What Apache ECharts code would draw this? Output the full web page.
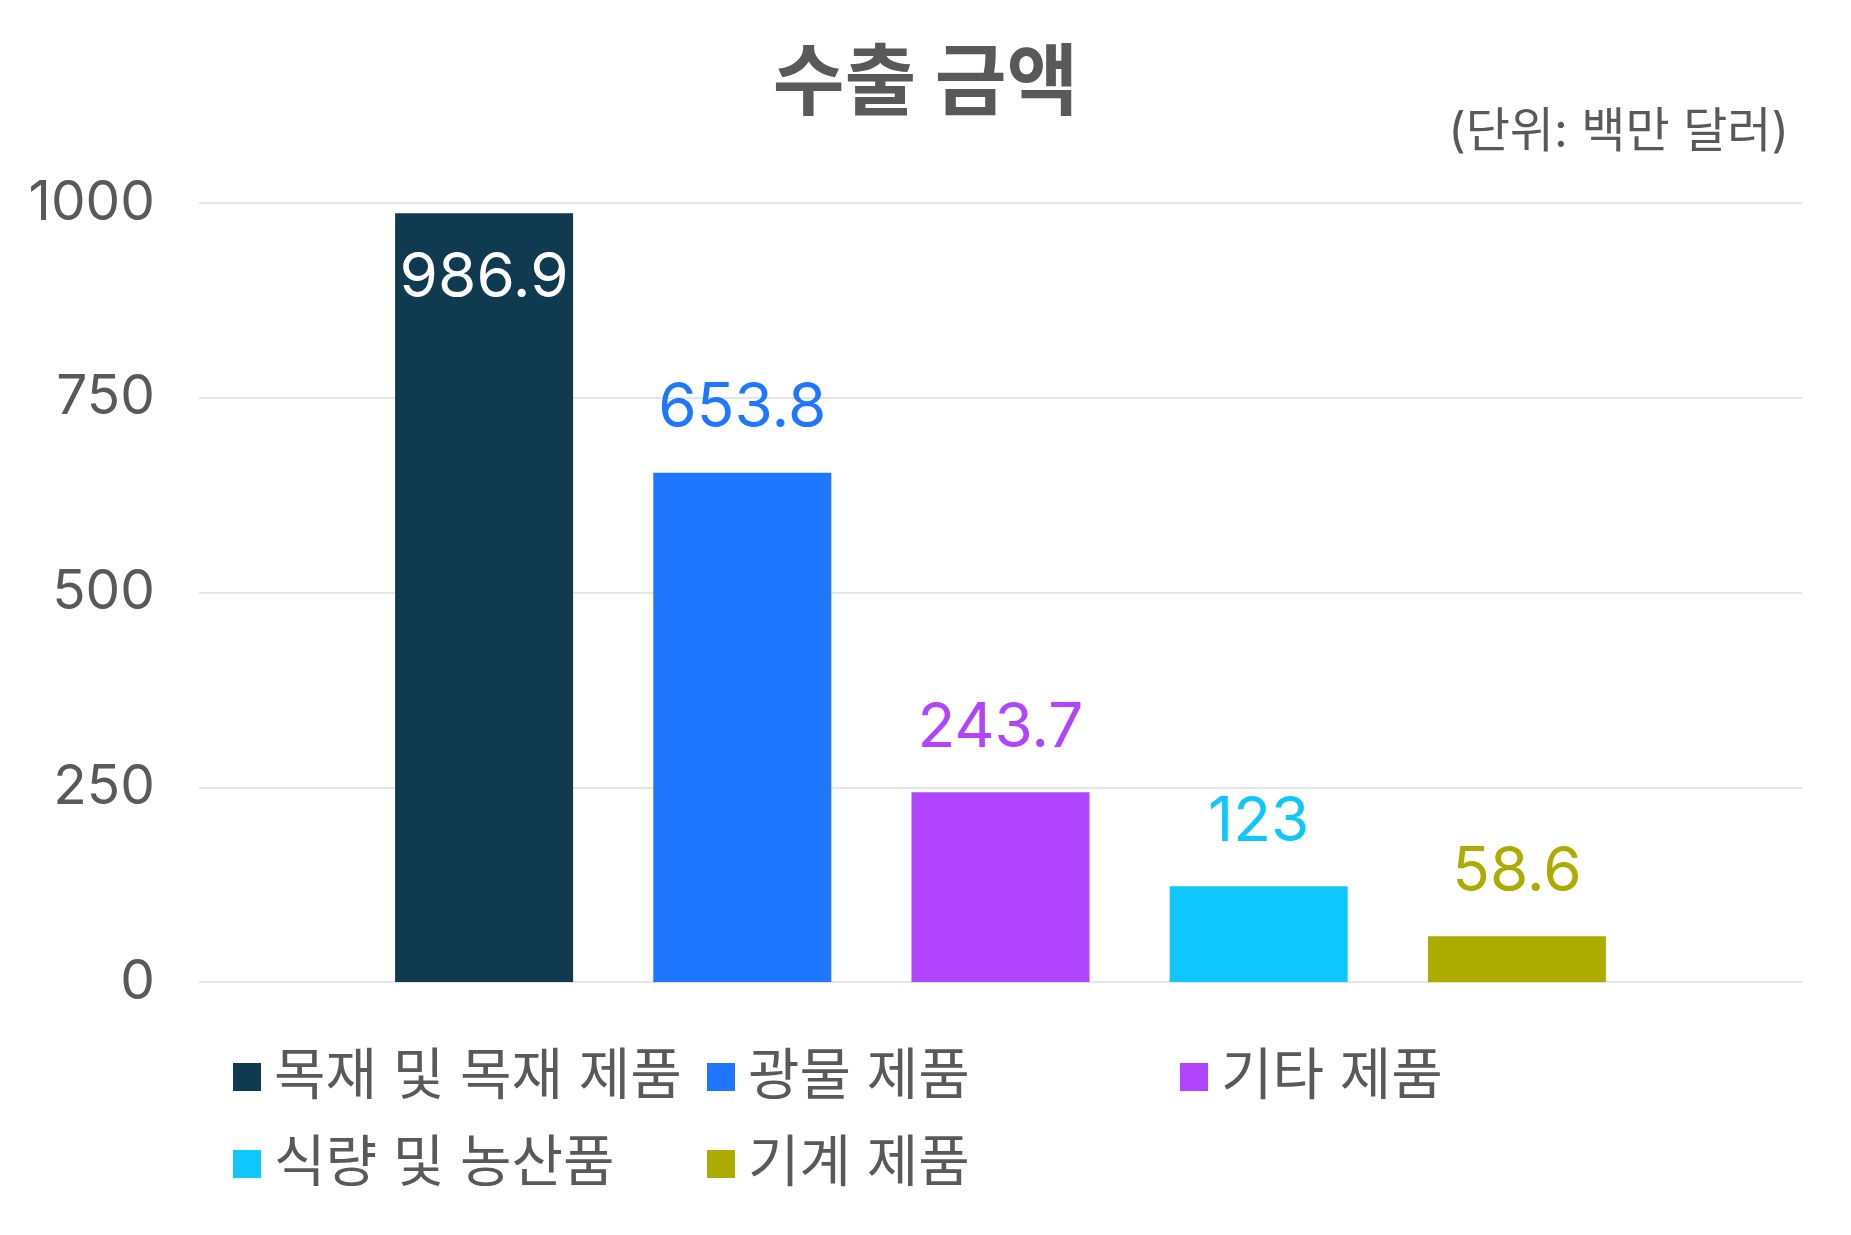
<!DOCTYPE html>
<html>
<head>
<meta charset="utf-8">
<script src="https://cdn.jsdelivr.net/npm/echarts@6/dist/echarts.min.js"></script>
<style>
    html, body { margin: 0; padding: 0; background: #fff; }
    #chart { width: 1851px; height: 1235px; }
</style>
</head>
<body>
<div id="chart"></div>
<script>
// 품목별 수출 금액 (단위: 백만 달러)
var categories = ['목재 및 목재 제품', '광물 제품', '기타 제품', '식량 및 농산품', '기계 제품'];
var values = [986.9, 653.8, 243.7, 123, 58.6];
var colors = ['#0F3A4F', '#1F77FF', '#B144FF', '#0FC7FF', '#ABAB00'];
var yTicks = [0, 250, 500, 750, 1000];

var fontFamily = "Inter, 'Noto Sans CJK KR', sans-serif";
var textColor = '#595959';

var chart = echarts.init(document.getElementById('chart'));

// 항목마다 시리즈 하나 (범례용), 같은 stack 으로 한 자리에 놓음
var series = categories.map(function (name, i) {
    return {
        name: name,
        type: 'bar',
        stack: 'total',
        xAxisIndex: 1,
        yAxisIndex: 1,
        barWidth: 178,
        itemStyle: { color: colors[i] },
        data: values.map(function (v, j) { return j === i ? v : '-'; }),
        label: {
            show: true,
            position: i === 0 ? 'insideTop' : 'top',
            distance: i === 0 ? 34 : 33,
            color: i === 0 ? '#ffffff' : colors[i],
            fontFamily: fontFamily,
            fontSize: 62
        }
    };
});

function legendBlock(left, names) {
    return {
        orient: 'vertical',
        left: left,
        top: 1049,
        padding: 0,
        itemWidth: 28,
        itemHeight: 28,
        itemGap: 31,
        icon: 'rect',
        selectedMode: false,
        data: names,
        textStyle: {
            color: textColor,
            fontFamily: fontFamily,
            fontSize: 56,
            padding: [0, 0, 0, 8]
        }
    };
}

option = {
    animation: false,
    title: [{
        text: '수출 금액',
        left: 'center',
        top: 47,
        padding: 0,
        textStyle: {
            color: textColor,
            fontFamily: fontFamily,
            fontSize: 78,
            fontWeight: 'bold'
        }
    }, {
        text: '(단위: 백만 달러)',
        right: 62,
        top: 109,
        padding: 0,
        textStyle: {
            color: textColor,
            fontFamily: fontFamily,
            fontSize: 48,
            fontWeight: 'normal'
        }
    }],
    legend: [
        legendBlock(233, [categories[0], categories[3]]),
        legendBlock(707, [categories[1], categories[4]]),
        legendBlock(1180, [categories[2]])
    ],
    grid: [
        // 눈금선/축 라벨용 넓은 영역
        { left: 199, right: 49, top: 203, bottom: 253 },
        // 막대용 영역
        { left: 355, right: 205, top: 203, bottom: 253 }
    ],
    xAxis: [{
        gridIndex: 0,
        type: 'category',
        data: categories,
        show: false
    }, {
        gridIndex: 1,
        type: 'category',
        data: categories,
        axisLine: { show: false },
        axisTick: { show: false },
        axisLabel: { show: false }
    }],
    yAxis: [{
        gridIndex: 0,
        type: 'value',
        min: yTicks[0],
        max: yTicks[yTicks.length - 1],
        interval: yTicks[1] - yTicks[0],
        axisLine: { show: false },
        axisTick: { show: false },
        axisLabel: {
            color: textColor,
            fontFamily: fontFamily,
            fontSize: 55,
            margin: 44,
            formatter: function (v) { return String(v); }
        },
        splitLine: {
            lineStyle: { color: '#E5E5E5', width: 2 }
        }
    }, {
        gridIndex: 1,
        type: 'value',
        min: yTicks[0],
        max: yTicks[yTicks.length - 1],
        interval: yTicks[1] - yTicks[0],
        show: false,
        splitLine: { show: false }
    }],
    series: series
};

chart.setOption(option);
</script>
</body>
</html>
